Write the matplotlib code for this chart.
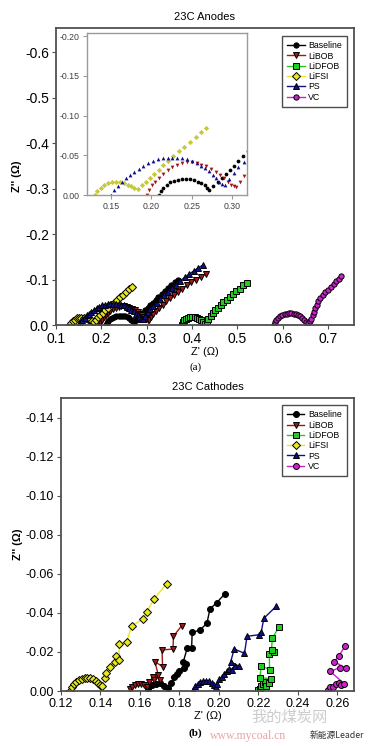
import numpy as np
import matplotlib
matplotlib.use("Agg")
import matplotlib.pyplot as plt
from matplotlib.ticker import FormatStrFormatter, MultipleLocator

plt.rcParams['font.family'] = ['Liberation Sans', 'DejaVu Sans']
plt.rcParams['axes.unicode_minus'] = False

labels = ["Baseline", "LiBOB", "LiDFOB", "LiFSI", "PS", "VC"]
colors = ["#000000", "#a01818", "#22cc22", "#e8e820", "#10108a", "#cc22cc"]
markers = ["o", "v", "s", "D", "^", "o"]

# ---- anodes (a): Z' and Z'' in ohm
an_base_x = [0.210, 0.212, 0.215, 0.219, 0.223, 0.228, 0.233, 0.238, 0.243, 0.248, 0.253, 0.258, 0.262, 0.266, 0.269, 0.272,
             0.277, 0.282, 0.287, 0.292, 0.297, 0.302, 0.308, 0.314, 0.320, 0.326, 0.333, 0.340, 0.347, 0.354, 0.362, 0.370]
an_base_y = [0.000, -0.005, -0.009, -0.013, -0.016, -0.018, -0.019, -0.020, -0.020, -0.020, -0.019, -0.017, -0.015, -0.012, -0.009, -0.006,
             -0.011, -0.016, -0.021, -0.027, -0.032, -0.037, -0.043, -0.049, -0.055, -0.061, -0.068, -0.075, -0.082, -0.088, -0.094, -0.100]

an_libob_x = [0.194, 0.197, 0.201, 0.205, 0.210, 0.215, 0.220, 0.226, 0.232, 0.238, 0.244, 0.250, 0.256, 0.262, 0.268, 0.274,
              0.280, 0.285, 0.290, 0.295, 0.299, 0.302, 0.305,
              0.310, 0.315, 0.321, 0.328, 0.335, 0.343, 0.351, 0.360, 0.369, 0.378, 0.388, 0.398, 0.408, 0.419, 0.430]
an_libob_y = [0.000, -0.006, -0.012, -0.017, -0.022, -0.027, -0.031, -0.035, -0.038, -0.040, -0.041, -0.041, -0.040, -0.038, -0.036, -0.033,
              -0.029, -0.025, -0.021, -0.017, -0.013, -0.011, -0.010,
              -0.017, -0.024, -0.031, -0.038, -0.045, -0.052, -0.059, -0.066, -0.073, -0.080, -0.087, -0.094, -0.100, -0.106, -0.112]

an_lidfob_x = [0.378, 0.380, 0.383, 0.387, 0.391, 0.396, 0.401, 0.406, 0.411, 0.416, 0.420, 0.424, 0.428,
               0.432, 0.436, 0.441, 0.446, 0.451, 0.457, 0.463, 0.469, 0.476, 0.483, 0.490, 0.497, 0.505, 0.513, 0.521]
an_lidfob_y = [0.000, -0.006, -0.010, -0.014, -0.016, -0.018, -0.018, -0.018, -0.016, -0.013, -0.010, -0.006, -0.003,
               -0.008, -0.014, -0.020, -0.026, -0.032, -0.038, -0.044, -0.050, -0.056, -0.062, -0.068, -0.074, -0.080, -0.087, -0.093]

an_lifsi_x = [0.130, 0.133, 0.137, 0.141, 0.146, 0.151, 0.156, 0.161, 0.166, 0.171, 0.175, 0.179, 0.183,
              0.188, 0.193, 0.198, 0.203, 0.209, 0.215, 0.221, 0.227, 0.234, 0.241, 0.248, 0.255, 0.262, 0.268]
an_lifsi_y = [0.000, -0.005, -0.009, -0.012, -0.0145, -0.0158, -0.0162, -0.0158, -0.0148, -0.013, -0.011, -0.0088, -0.007,
              -0.012, -0.017, -0.022, -0.027, -0.032, -0.038, -0.043, -0.049, -0.055, -0.061, -0.067, -0.073, -0.079, -0.084]

an_ps_x = [0.150, 0.154, 0.158, 0.163, 0.168, 0.173, 0.178, 0.184, 0.190, 0.196, 0.202, 0.208, 0.214, 0.220, 0.226, 0.232,
           0.238, 0.244, 0.250, 0.256, 0.261, 0.266, 0.271, 0.276, 0.280, 0.284, 0.288, 0.291,
           0.296, 0.302, 0.308, 0.315, 0.322, 0.330, 0.338, 0.346, 0.355, 0.364, 0.374, 0.384, 0.394, 0.404, 0.414, 0.425]
an_ps_y = [0.000, -0.006, -0.011, -0.016, -0.021, -0.025, -0.029, -0.033, -0.037, -0.040, -0.043, -0.045, -0.046, -0.047, -0.047, -0.047,
           -0.046, -0.045, -0.043, -0.040, -0.037, -0.034, -0.030, -0.025, -0.021, -0.017, -0.014, -0.013,
           -0.020, -0.028, -0.035, -0.042, -0.049, -0.057, -0.065, -0.073, -0.081, -0.089, -0.097, -0.105, -0.112, -0.119, -0.126, -0.132]

an_vc_x = [0.581, 0.583, 0.586, 0.590, 0.594, 0.599, 0.604, 0.609, 0.614, 0.619, 0.624, 0.629, 0.634, 0.639, 0.643, 0.647, 0.651, 0.655,
           0.659, 0.663, 0.666, 0.669, 0.672, 0.675, 0.678, 0.682, 0.688, 0.694, 0.700, 0.706, 0.712, 0.718, 0.724, 0.729]
an_vc_y = [0.000, -0.006, -0.011, -0.015, -0.019, -0.022, -0.024, -0.025, -0.026, -0.026, -0.025, -0.024, -0.022, -0.019, -0.015, -0.011, -0.007, -0.004,
           -0.008, -0.014, -0.021, -0.029, -0.037, -0.045, -0.053, -0.060, -0.066, -0.072, -0.078, -0.084, -0.090, -0.096, -0.102, -0.107]

# ---- cathodes (b)
ca_base_x = [0.1640, 0.1660, 0.1680, 0.1700, 0.1720, 0.1740, 0.1760, 0.1775, 0.1790, 0.1800, 0.1825, 0.1835, 0.1820,
             0.1840, 0.1862, 0.1865, 0.1905, 0.1940, 0.1955, 0.1990, 0.2030]
ca_base_y = [-0.0010, -0.0030, -0.0035, -0.0040, -0.0025, -0.0018, -0.0040, -0.0070, -0.0085, -0.0105, -0.0120, -0.0140, -0.0150,
             -0.0220, -0.0220, -0.0300, -0.0312, -0.0348, -0.0420, -0.0453, -0.0497]

ca_libob_x = [0.1550, 0.1560, 0.1575, 0.1590, 0.1605, 0.1620, 0.1635, 0.1648, 0.1665, 0.1672, 0.1690, 0.1700,
              0.1676, 0.1715, 0.1712, 0.1768, 0.1770, 0.1812]
ca_libob_y = [-0.0010, -0.0022, -0.0030, -0.0035, -0.0038, -0.0030, -0.0022, -0.0045, -0.0070, -0.0058, -0.0080, -0.0055,
              -0.0150, -0.0125, -0.0210, -0.0215, -0.0280, -0.0335]

ca_lidfob_x = [0.2200, 0.2207, 0.2215, 0.2222, 0.2232, 0.2240, 0.2252, 0.2265, 0.2208, 0.2215, 0.2257, 0.2256,
               0.2280, 0.2267, 0.2271, 0.2305]
ca_lidfob_y = [-0.0003, -0.0012, -0.0025, -0.0035, -0.0045, -0.0025, -0.0040, -0.0063, -0.0068, -0.0130, -0.0110, -0.0190,
               -0.0200, -0.0212, -0.0270, -0.0328]

ca_lifsi_x = [0.1246, 0.1255, 0.1265, 0.1278, 0.1292, 0.1306, 0.1320, 0.1334, 0.1348, 0.1362, 0.1376, 0.1390, 0.1400, 0.1406,
              0.1423, 0.1430, 0.1448, 0.1473, 0.1479, 0.1495, 0.1495, 0.1533, 0.1558, 0.1614, 0.1634, 0.1672, 0.1735]
ca_lifsi_y = [0.0000, -0.0020, -0.0034, -0.0046, -0.0055, -0.0061, -0.0066, -0.0068, -0.0066, -0.0061, -0.0053, -0.0042, -0.0032, -0.0026,
              -0.0068, -0.0094, -0.0125, -0.0150, -0.0179, -0.0159, -0.0240, -0.0253, -0.0333, -0.0368, -0.0402, -0.0472, -0.0549]

ca_ps_x = [0.1870, 0.1880, 0.1893, 0.1907, 0.1920, 0.1935, 0.1950, 0.1963, 0.1975, 0.1985, 0.1993, 0.2003, 0.2015, 0.2025,
           0.2040, 0.2052, 0.2065, 0.2080, 0.2100, 0.2060, 0.2078, 0.2130, 0.2143, 0.2203, 0.2215, 0.2228, 0.2290]
ca_ps_y = [-0.0005, -0.0025, -0.0038, -0.0047, -0.0052, -0.0053, -0.0050, -0.0042, -0.0032, -0.0020, -0.0035, -0.0060, -0.0072, -0.0085,
           -0.0100, -0.0112, -0.0110, -0.0130, -0.0128, -0.0150, -0.0215, -0.0193, -0.0280, -0.0288, -0.0302, -0.0372, -0.0433]

ca_vc_x = [0.2555, 0.2562, 0.2578, 0.2592, 0.2608, 0.2620, 0.2635, 0.2565, 0.2612, 0.2645, 0.2585, 0.2608, 0.2641]
ca_vc_y = [-0.0005, -0.0020, -0.0022, -0.0035, -0.0040, -0.0032, -0.0038, -0.0100, -0.0120, -0.0117, -0.0150, -0.0180, -0.0231]

anode_x = [an_base_x, an_libob_x, an_lidfob_x, an_lifsi_x, an_ps_x, an_vc_x]
anode_y = [an_base_y, an_libob_y, an_lidfob_y, an_lifsi_y, an_ps_y, an_vc_y]
cath_x = [ca_base_x, ca_libob_x, ca_lidfob_x, ca_lifsi_x, ca_ps_x, ca_vc_x]
cath_y = [ca_base_y, ca_libob_y, ca_lidfob_y, ca_lifsi_y, ca_ps_y, ca_vc_y]

frame_col = "#505050"


def style_axes(ax, size=9.5, lw=1.3, col=frame_col):
    for sp in ax.spines.values():
        sp.set_color(col)
        sp.set_linewidth(lw)
    ax.tick_params(direction="out", length=3, width=0.8, color=col, labelsize=size, pad=2)


def add_legend(ax, anchor):
    leg = ax.legend(loc="upper right", bbox_to_anchor=anchor, fontsize=6.3, frameon=True,
                    fancybox=False, edgecolor="#202020", handlelength=2.0, handletextpad=0.4,
                    labelspacing=0.15, borderpad=0.6, borderaxespad=0)
    leg.get_frame().set_linewidth(1.0)


fig = plt.figure(figsize=(3.73, 7.46), dpi=100)

# anodes
ax1 = fig.add_axes([0.150, 0.5643, 0.799, 0.3982])
for x, y, lab, c, m in zip(anode_x, anode_y, labels, colors, markers):
    ax1.plot(x, y, color=c, marker=m, markersize=3.8, markerfacecolor=c, markeredgecolor="black",
             markeredgewidth=0.7, linewidth=1.0, label=lab)
ax1.set_xlim(0.1, 0.757)
ax1.set_ylim(0, -0.653)
ax1.xaxis.set_major_locator(MultipleLocator(0.1))
ax1.yaxis.set_major_locator(MultipleLocator(0.1))
ax1.xaxis.set_major_formatter(FormatStrFormatter("%.1f"))
ax1.yaxis.set_major_formatter(FormatStrFormatter("%.1f"))
style_axes(ax1, size=10)
ax1.set_title("23C Anodes", fontsize=8, pad=6)
ax1.set_xlabel("Z' (\u03a9)", fontsize=8, labelpad=1)
ax1.set_ylabel("Z'' (\u03a9)", fontsize=8, fontweight="bold", labelpad=2)
add_legend(ax1, (0.977, 0.973))
fig.text(0.523, 0.508, "(a)", fontsize=8, ha="center", va="center", family="Liberation Serif")

# inset
axi = fig.add_axes([0.233, 0.7386, 0.429, 0.2172])
inset_cols = ["#000000", "#a01818", "#22cc22", "#c8c840", "#10108a", "#cc22cc"]
for x, y, c, m in zip(anode_x, anode_y, inset_cols, markers):
    axi.plot(x, y, color=c, marker=m, markersize=2.7, markeredgewidth=0, linestyle="none")
axi.set_xlim(0.12, 0.3185)
axi.set_ylim(0, -0.204)
axi.xaxis.set_major_locator(MultipleLocator(0.05))
axi.yaxis.set_major_locator(MultipleLocator(0.05))
axi.xaxis.set_major_formatter(FormatStrFormatter("%.2f"))
axi.yaxis.set_major_formatter(FormatStrFormatter("%.2f"))
style_axes(axi, size=6.3, lw=1.0, col="#9a9a9a")
for lbl in axi.get_xticklabels() + axi.get_yticklabels():
    lbl.set_color("#404040")

# cathodes
ax2 = fig.add_axes([0.1635, 0.0737, 0.7855, 0.3928])
for x, y, lab, c, m in zip(cath_x, cath_y, labels, colors, markers):
    ax2.plot(x, y, color=c, marker=m, markersize=4.3, markerfacecolor=c, markeredgecolor="black",
             markeredgewidth=0.7, linewidth=1.0, label=lab)
ax2.set_xlim(0.12, 0.2685)
ax2.set_ylim(0, -0.150)
ax2.xaxis.set_major_locator(MultipleLocator(0.02))
ax2.yaxis.set_major_locator(MultipleLocator(0.02))
ax2.xaxis.set_major_formatter(FormatStrFormatter("%.2f"))
ax2.yaxis.set_major_formatter(FormatStrFormatter("%.2f"))
style_axes(ax2, size=9)
ax2.set_title("23C Cathodes", fontsize=8, pad=6)
ax2.set_xlabel("Z' (\u03a9)", fontsize=8, labelpad=1)
ax2.set_ylabel("Z'' (\u03a9)", fontsize=8, fontweight="bold", labelpad=2)
add_legend(ax2, (0.976, 0.976))
fig.text(0.523, 0.017, "(b)", fontsize=8, ha="center", va="center", family="Liberation Serif", fontweight="bold")

# watermark, kept clear of the tick labels
fig.text(0.775, 0.038, "我的煤炭网", fontsize=11, color="#c4c4c4", ha="center", va="center",
         family=["Noto Sans CJK SC", "DejaVu Sans"], alpha=0.85)
fig.text(0.665, 0.014, "www.mycoal.cn", fontsize=8.5, color="#e49a9a", ha="center", va="center",
         family="Liberation Serif", alpha=0.9)
fig.text(0.975, 0.014, "新能源Leader", fontsize=6.3, color="#303030", ha="right", va="center",
         family=["Noto Sans CJK SC", "DejaVu Sans"])

fig.savefig("out.png", dpi=100)
